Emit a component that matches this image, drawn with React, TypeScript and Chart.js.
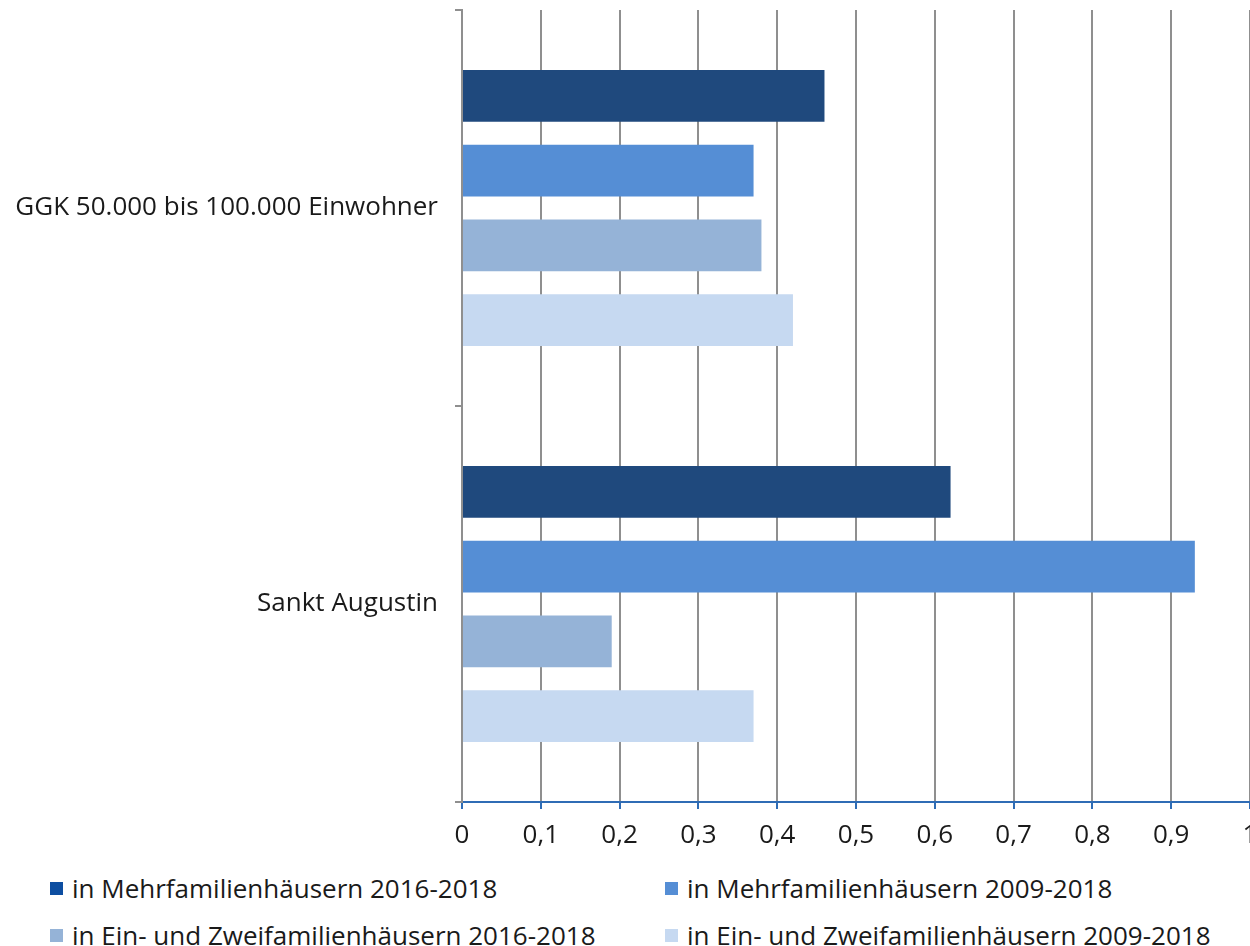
import React, { useEffect, useRef } from "react";
import { Chart, registerables } from "chart.js";

Chart.register(...registerables);

const categories = ["GGK 50.000 bis 100.000 Einwohner", "Sankt Augustin"];
const seriesLabels = [
  "in Mehrfamilienhäusern 2016-2018",
  "in Mehrfamilienhäusern 2009-2018",
  "in Ein- und Zweifamilienhäusern 2016-2018",
  "in Ein- und Zweifamilienhäusern 2009-2018",
];
const mfh1618 = [0.46, 0.62];
const mfh0918 = [0.37, 0.93];
const ezfh1618 = [0.38, 0.19];
const ezfh0918 = [0.42, 0.37];
const xMin = 0;
const xMax = 1;
const xStep = 0.1;

const barColors = ["#1f497d", "#558ed5", "#95b3d7", "#c6d9f1"];
const legendColors = ["#0d4ea1", "#558ed5", "#95b3d7", "#c6d9f1"];

const FONT = "'Open Sans', 'Noto Sans', sans-serif";
const FONT_SIZE = 26;
const TEXT = "#1a1a1a";
const GRID = "#8f8f8f";
const AXIS_BLUE = "#2f6cb5";

export default function App() {
  const ref = useRef<HTMLCanvasElement | null>(null);

  useEffect(() => {
    if (!ref.current) return;
    const series = [mfh1618, mfh0918, ezfh1618, ezfh0918];
    const chart = new Chart(ref.current, {
      type: "bar",
      data: {
        labels: categories,
        datasets: series.map((d, i) => ({
          label: seriesLabels[i],
          data: d,
          backgroundColor: barColors[i],
          borderWidth: 0,
          categoryPercentage: 0.755,
          barPercentage: 0.695,
        })),
      },
      options: {
        indexAxis: "y",
        animation: false,
        responsive: false,
        layout: { padding: { top: 10, right: 40, left: 0, bottom: 0 } },
        plugins: {
          legend: { display: false },
          tooltip: { enabled: false },
        },
        scales: {
          x: {
            min: xMin,
            max: xMax,
            ticks: {
              stepSize: xStep,
              padding: 11,
              color: TEXT,
              font: { family: FONT, size: FONT_SIZE },
              maxRotation: 0,
              callback: (v: any) => String(Math.round(Number(v) * 10) / 10).replace(".", ","),
            },
            grid: {
              color: GRID,
              lineWidth: 2,
              tickColor: AXIS_BLUE,
              tickLength: 7,
              drawTicks: true,
            },
            border: { color: AXIS_BLUE, width: 2 },
            afterFit: (s: any) => {
              s.height = 68;
              s.paddingLeft = 0;
              s.paddingRight = 0;
            },
          },
          y: {
            offset: true,
            ticks: {
              padding: 17,
              color: TEXT,
              font: { family: FONT, size: FONT_SIZE },
            },
            grid: {
              offset: true,
              drawOnChartArea: false,
              color: GRID,
              lineWidth: 2,
              tickLength: 7,
            },
            border: { color: GRID, width: 2 },
            afterFit: (s: any) => {
              s.width = 462;
              s.paddingTop = 0;
              s.paddingBottom = 0;
            },
          },
        },
      },
    });
    return () => chart.destroy();
  }, []);

  const items = seriesLabels.map((l, i) => ({
    label: l,
    color: legendColors[i],
    left: i % 2 === 0 ? 50 : 665,
    top: i < 2 ? 873 : 920,
  }));

  return (
    <div
      style={{
        position: "fixed",
        left: 0,
        top: 0,
        width: 1250,
        height: 946,
        overflow: "hidden",
        background: "#fff",
      }}
    >
      <canvas ref={ref} width={1290} height={870} style={{ position: "absolute", left: 0, top: 0 }} />
      {items.map((it) => (
        <div
          key={it.label}
          style={{
            position: "absolute",
            left: it.left,
            top: it.top,
            height: 30,
            display: "flex",
            alignItems: "center",
            fontFamily: FONT,
            fontSize: FONT_SIZE,
            color: TEXT,
            whiteSpace: "nowrap",
          }}
        >
          <span
            style={{
              display: "inline-block",
              width: 13,
              height: 13,
              background: it.color,
              marginRight: 9,
            }}
          />
          {it.label}
        </div>
      ))}
    </div>
  );
}
